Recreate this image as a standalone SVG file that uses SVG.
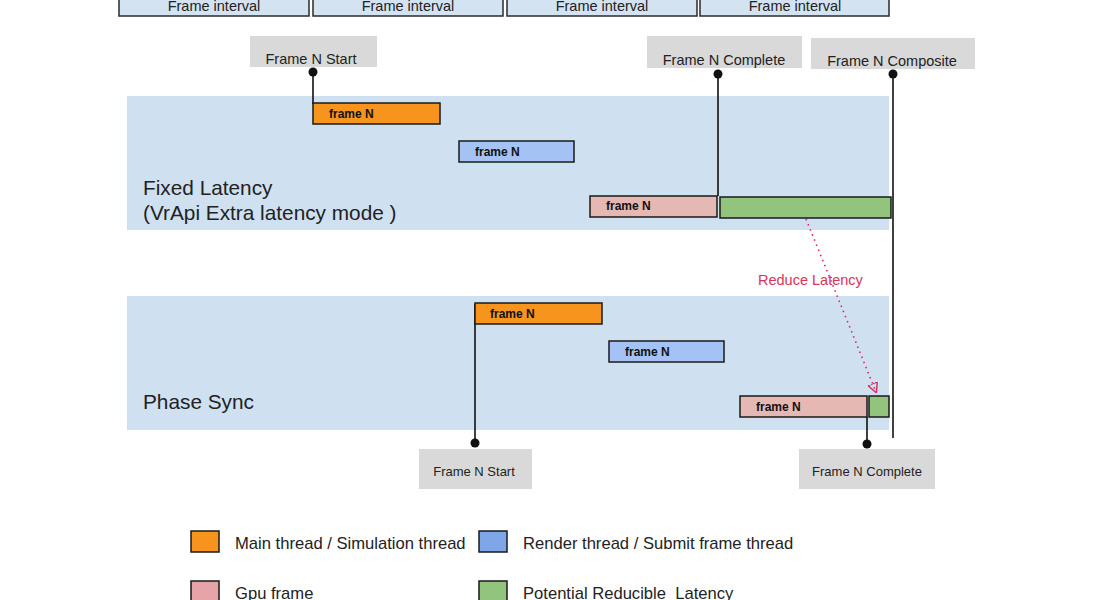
<svg xmlns="http://www.w3.org/2000/svg" width="1095" height="600" viewBox="0 0 1095 600">
<style>
.iv{fill:#d4e3f1;stroke:#2b2b2b;stroke-width:1.5}
.ivt{font-family:"Liberation Sans",Arial,sans-serif;font-size:14.5px;fill:#222;text-anchor:middle}
.lab{fill:#d9d9d9}
.labt{font-family:"Liberation Sans",Arial,sans-serif;fill:#222;text-anchor:middle}
.band{fill:#cfe0f1}
.bar{stroke:#1a1a1a;stroke-width:1.5}
.bt{font-family:"Liberation Sans",Arial,sans-serif;font-size:12px;font-weight:bold;fill:#111}
.or{fill:#f7941d}
.bl{fill:#a4c2f4}
.pk{fill:#e6b8b3}
.gr{fill:#93c47d}
.ln{stroke:#111;stroke-width:1.6;fill:none}
.big{font-family:"Liberation Sans",Arial,sans-serif;font-size:20.8px;fill:#222}
.leg{font-family:"Liberation Sans",Arial,sans-serif;font-size:16.6px;fill:#222;white-space:pre}
</style>
<defs>
<marker id="open" viewBox="0 0 10 10" refX="9" refY="5" markerWidth="10" markerHeight="10" markerUnits="userSpaceOnUse" orient="auto">
<path d="M0,0 L10,5 L0,10 Z" fill="none" stroke="#e0245e" stroke-width="1.4"/>
</marker>
</defs>
<rect width="1095" height="600" fill="#fff"/>
<g id="intervals">
<rect class="iv" x="119" y="-5" width="190" height="21"/><text class="ivt" x="214" y="11">Frame interval</text>
<rect class="iv" x="313" y="-5" width="190" height="21"/><text class="ivt" x="408" y="11">Frame interval</text>
<rect class="iv" x="507" y="-5" width="190" height="21"/><text class="ivt" x="602" y="11">Frame interval</text>
<rect class="iv" x="700" y="-5" width="189" height="21"/><text class="ivt" x="795" y="11">Frame interval</text>
</g>
<g id="band-fixed">
<rect class="band" x="127" y="96" width="762" height="134"/>
<text class="big" x="143" y="195">Fixed Latency</text>
<text class="big" x="143" y="220">(VrApi Extra latency mode )</text>
</g>
<g id="band-phase">
<rect class="band" x="127" y="296" width="762" height="134"/>
<text class="big" x="143" y="409">Phase Sync</text>
</g>
<g id="label-start-top"><rect class="lab" x="250" y="36" width="127" height="31"/><text class="labt" x="311" y="64" font-size="14.5">Frame N Start</text></g>
<g id="label-complete-top"><rect class="lab" x="647" y="36" width="155" height="32"/><text class="labt" x="724" y="65" font-size="14.5">Frame N Complete</text></g>
<g id="label-composite"><rect class="lab" x="811" y="38" width="164" height="31"/><text class="labt" x="892" y="66" font-size="14.5">Frame N Composite</text></g>
<g id="label-start-bottom"><rect class="lab" x="419" y="449" width="113" height="40"/><text class="labt" x="474" y="476" font-size="13">Frame N Start</text></g>
<g id="label-complete-bottom"><rect class="lab" x="799" y="449" width="136" height="40"/><text class="labt" x="867" y="476" font-size="13">Frame N Complete</text></g>
<g id="connectors">
<line class="ln" x1="313" y1="72" x2="313" y2="104"/><circle cx="313" cy="72" r="4.5" fill="#111"/>
<line class="ln" x1="718" y1="74" x2="718" y2="196"/><circle cx="718" cy="74" r="4.5" fill="#111"/>
<line class="ln" x1="893" y1="74" x2="893" y2="438"/><circle cx="893" cy="74" r="4.5" fill="#111"/>
<line class="ln" x1="475" y1="304" x2="475" y2="443"/><circle cx="475" cy="443" r="4.5" fill="#111"/>
<line class="ln" x1="867" y1="417" x2="867" y2="444"/><circle cx="867" cy="444" r="4.5" fill="#111"/>
<line x1="806" y1="219" x2="876" y2="392" stroke="#e0245e" stroke-width="1.6" stroke-dasharray="1.5 4" marker-end="url(#open)"/>
<text x="758" y="285" font-family="'Liberation Sans',Arial,sans-serif" font-size="14.5" fill="#d6355d">Reduce Latency</text>
</g>
<g id="fixed-main"><rect class="bar or" x="313" y="103" width="127" height="21"/><text class="bt" x="329" y="118">frame N</text></g>
<g id="fixed-render"><rect class="bar bl" x="459" y="141" width="115" height="21"/><text class="bt" x="475" y="156">frame N</text></g>
<g id="fixed-gpu"><rect class="bar pk" x="590" y="196" width="127" height="21"/><text class="bt" x="606" y="210">frame N</text></g>
<g id="fixed-latency"><rect class="bar gr" x="720" y="197" width="171" height="21"/></g>
<g id="phase-main"><rect class="bar or" x="475" y="303" width="127" height="21"/><text class="bt" x="490" y="318">frame N</text></g>
<g id="phase-render"><rect class="bar bl" x="609" y="341" width="115" height="21"/><text class="bt" x="625" y="356">frame N</text></g>
<g id="phase-gpu"><rect class="bar pk" x="740" y="396" width="127" height="21"/><text class="bt" x="756" y="411">frame N</text></g>
<g id="phase-latency"><rect class="bar gr" x="869" y="396" width="20" height="21"/></g>
<g id="legend">
<rect class="bar" x="191" y="531" width="28" height="21" fill="#f7941d"/><text class="leg" x="235" y="549">Main thread / Simulation thread</text>
<rect class="bar" x="479" y="531" width="28" height="21" fill="#7ea6e8"/><text class="leg" x="523" y="549">Render thread / Submit frame thread</text>
<rect class="bar" x="191" y="581" width="28" height="21" fill="#e6a3a8"/><text class="leg" x="235" y="599">Gpu frame</text>
<rect class="bar" x="479" y="581" width="28" height="21" fill="#93c47d"/><text class="leg" x="523" y="599" xml:space="preserve">Potential Reducible  Latency</text>
</g>
</svg>
